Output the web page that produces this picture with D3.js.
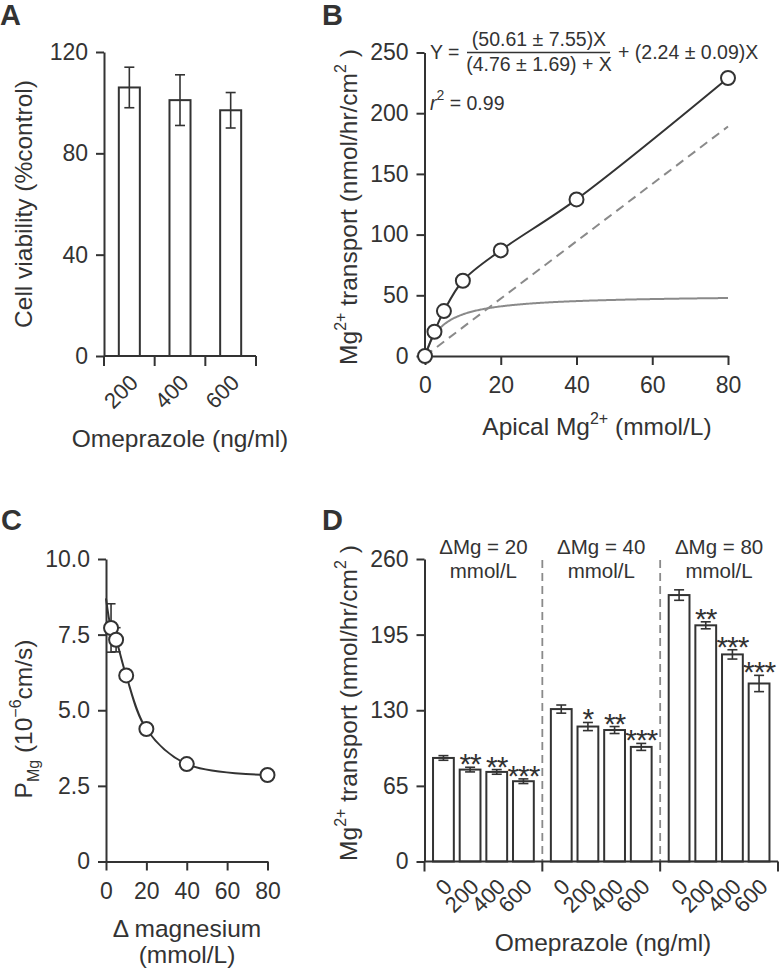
<!DOCTYPE html>
<html><head><meta charset="utf-8">
<script src="https://cdn.jsdelivr.net/npm/d3@7"></script>
<style>
body{margin:0;background:#fff}
svg{display:block}
text{font-family:"Liberation Sans",Arial,sans-serif;fill:#333}
</style>
</head><body><svg id="chart" width="780" height="971"></svg>
<script>
// ---------------- DATA ----------------
// Panel A
const doseLabelsA = ["200", "400", "600"];
const viabilityA = [106, 101, 97];
const viabilityErrA = [8, 10, 7];
const yTicksA = [0, 40, 80, 120];

// Panel B
const apicalMgB = [0, 2.5, 5, 10, 20, 40, 80];
const transportB = [0, 20, 37, 62, 87, 129, 229];
const fitVmaxB = 50.61, fitKmB = 4.76, fitSlopeB = 2.24;
const dashedXB = [0, 80];
const dashedYB = [0, 189];
const xTicksB = [0, 20, 40, 60, 80];
const yTicksB = [0, 50, 100, 150, 200, 250];

// Panel C
const deltaMgC = [2.5, 5, 10, 20, 40, 80];
const pMgC = [7.72, 7.33, 6.15, 4.38, 3.22, 2.86];
const pMgErrC = [0.8, 0.4, 0.1, 0.1, 0.1, 0.1];
const curveXC = [0, 2.5, 5, 10, 20, 40, 80];
const curveYC = [8.7, 7.72, 7.33, 6.15, 4.38, 3.22, 2.86];
const xTicksC = [0, 20, 40, 60, 80];
const yTicksC = [0, 2.5, 5, 7.5, 10];
const yTickLabelsC = ["0", "2.5", "5.0", "7.5", "10.0"];

// Panel D
const groupLabelsD = ["\u0394Mg = 20", "\u0394Mg = 40", "\u0394Mg = 80"];
const dosesD = ["0", "200", "400", "600"];
const transportD = [[89, 79, 77, 69], [131, 116, 113, 98.5], [229, 203, 178, 153]];
const transportErrD = [[2, 2, 2, 2], [3.5, 3.5, 3, 3], [4.5, 3, 4, 7]];
const sigD = [["", "**", "**", "***"], ["", "*", "**", "***"], ["", "**", "***", "***"]];
const yTicksD = [0, 65, 130, 195, 260];

// ---------------- DRAWING ----------------
const INK = "#333";
const GRAY = "#8a8a8a";
const svg = d3.select("#chart");

function styleAxis(g, fs) {
  g.attr("font-family", null).attr("font-size", null);
  g.select(".domain").attr("stroke", INK).attr("stroke-width", 2);
  g.selectAll(".tick line").attr("stroke", INK).attr("stroke-width", 2);
  g.selectAll(".tick text").attr("font-size", fs).attr("fill", INK);
}
function leftAxis(scale, x, ticks, fmt) {
  const ax = d3.axisLeft(scale).tickValues(ticks).tickSize(8).tickSizeOuter(0).tickPadding(8);
  if (fmt) ax.tickFormat(fmt);
  const g = svg.append("g").attr("transform", `translate(${x},0)`).call(ax);
  styleAxis(g, 23);
  return g;
}
function bottomAxis(scale, y, ticks) {
  const ax = d3.axisBottom(scale).tickValues(ticks).tickSize(9).tickSizeOuter(0).tickPadding(12);
  const g = svg.append("g").attr("transform", `translate(0,${y})`).call(ax);
  styleAxis(g, 23);
  return g;
}
function panelLetter(t, x, y) {
  svg.append("text").attr("x", x).attr("y", y).attr("font-size", 29).attr("font-weight", "bold").text(t);
}
function errBar(g, cx, yTop, yBot, cap) {
  g.append("line").attr("x1", cx).attr("x2", cx).attr("y1", yTop).attr("y2", yBot)
    .attr("stroke", INK).attr("stroke-width", 1.6);
  [yTop, yBot].forEach(yy => g.append("line").attr("x1", cx - cap / 2).attr("x2", cx + cap / 2)
    .attr("y1", yy).attr("y2", yy).attr("stroke", INK).attr("stroke-width", 1.6));
}
function mgLabel(x, y) {
  const t = svg.append("text").attr("transform", `translate(${x},${y}) rotate(-90)`)
    .attr("text-anchor", "middle").attr("font-size", 24.5);
  t.append("tspan").text("Mg");
  t.append("tspan").attr("dy", -11).attr("font-size", 16).text("2+");
  t.append("tspan").attr("dy", 11).text(" transport (nmol/hr/cm");
  t.append("tspan").attr("dy", -11).attr("font-size", 16).text("2");
  t.append("tspan").attr("dy", 11).text(" )");
}

// ===== Panel A =====
panelLetter("A", 0, 25);
const yA = d3.scaleLinear().domain([0, 120]).range([356, 52]);
const xA = d3.scaleBand().domain(doseLabelsA).range([104, 256]).paddingInner(0.585).paddingOuter(0.2925);
const gA = svg.append("g");
viabilityA.forEach((v, i) => {
  const d = doseLabelsA[i];
  gA.append("rect").attr("x", xA(d)).attr("y", yA(v)).attr("width", xA.bandwidth()).attr("height", yA(0) - yA(v))
    .attr("fill", "#fff").attr("stroke", INK).attr("stroke-width", 2);
  const cx = xA(d) + xA.bandwidth() / 2;
  errBar(gA, cx, yA(v + viabilityErrA[i]), yA(v - viabilityErrA[i]), 10);
});
leftAxis(yA, 104, yTicksA);
// x axis A
{
  gA.append("line").attr("x1", 104).attr("x2", 256).attr("y1", 356).attr("y2", 356).attr("stroke", INK).attr("stroke-width", 2);
  d3.range(doseLabelsA.length + 1).forEach(i => {
    const x = 104 + i * (152 / doseLabelsA.length);
    gA.append("line").attr("x1", x).attr("x2", x).attr("y1", 356).attr("y2", 366).attr("stroke", INK).attr("stroke-width", 2);
  });
  doseLabelsA.forEach(d => {
    const cx = xA(d) + xA.bandwidth() / 2;
    gA.append("text").attr("transform", `translate(${cx + 10},${384}) rotate(-45)`)
      .attr("text-anchor", "end").attr("font-size", 22).text(d);
  });
}
svg.append("text").attr("transform", "translate(32,204) rotate(-90)").attr("text-anchor", "middle")
  .attr("font-size", 24.5).text("Cell viability (%control)");
svg.append("text").attr("x", 180).attr("y", 447).attr("text-anchor", "middle").attr("font-size", 24.5)
  .text("Omeprazole (ng/ml)");

// ===== Panel B =====
panelLetter("B", 322, 25);
const xB = d3.scaleLinear().domain([0, 80]).range([425, 728]);
const yB = d3.scaleLinear().domain([0, 250]).range([356, 52.5]);
const gB = svg.append("g");
// gray hyperbolic component (from the printed fit parameters)
const hypX = d3.range(0, 80.01, 0.25);
gB.append("path").datum(hypX)
  .attr("d", d3.line().x(x => xB(x)).y(x => yB(fitVmaxB * x / (fitKmB + x))))
  .attr("fill", "none").attr("stroke", GRAY).attr("stroke-width", 2);
// dashed linear component
gB.append("path").datum(dashedXB.map((x, i) => [x, dashedYB[i]]))
  .attr("d", d3.line().x(d => xB(d[0])).y(d => yB(d[1])))
  .attr("fill", "none").attr("stroke", GRAY).attr("stroke-width", 2).attr("stroke-dasharray", "9,6");
// black total curve
const ptsB = apicalMgB.map((x, i) => [x, transportB[i]]);
gB.append("path").datum(ptsB)
  .attr("d", d3.line().x(d => xB(d[0])).y(d => yB(d[1])).curve(d3.curveCatmullRom.alpha(0.5)))
  .attr("fill", "none").attr("stroke", INK).attr("stroke-width", 2);
leftAxis(yB, 424.5, yTicksB);
bottomAxis(xB, 356, xTicksB);
gB.raise();
svg.append("g").selectAll("circle").data(ptsB).join("circle")
  .attr("cx", d => xB(d[0])).attr("cy", d => yB(d[1])).attr("r", 7)
  .attr("fill", "#fff").attr("stroke", INK).attr("stroke-width", 2);
// equation
{
  const fs = 19.5;
  svg.append("text").attr("x", 430).attr("y", 59).attr("font-size", fs).text("Y =");
  svg.append("text").attr("x", 539).attr("y", 46).attr("text-anchor", "middle").attr("font-size", fs).text("(50.61 \u00b1 7.55)X");
  svg.append("line").attr("x1", 467).attr("x2", 610).attr("y1", 52.5).attr("y2", 52.5).attr("stroke", INK).attr("stroke-width", 1.6);
  svg.append("text").attr("x", 539).attr("y", 71).attr("text-anchor", "middle").attr("font-size", fs).text("(4.76 \u00b1 1.69) + X");
  svg.append("text").attr("x", 618).attr("y", 59).attr("font-size", fs).text("+ (2.24 \u00b1 0.09)X");
  const r = svg.append("text").attr("x", 430).attr("y", 110).attr("font-size", fs);
  r.append("tspan").attr("font-style", "italic").text("r");
  r.append("tspan").attr("dy", -10).attr("font-size", 14).text("2");
  r.append("tspan").attr("dy", 10).text(" = 0.99");
}
mgLabel(357, 207);
{
  const t = svg.append("text").attr("x", 597).attr("y", 435).attr("text-anchor", "middle").attr("font-size", 24.5);
  t.append("tspan").text("Apical Mg");
  t.append("tspan").attr("dy", -11).attr("font-size", 16).text("2+");
  t.append("tspan").attr("dy", 11).text(" (mmol/L)");
}

// ===== Panel C =====
panelLetter("C", 1, 530);
const xC = d3.scaleLinear().domain([0, 80]).range([106, 267.5]);
const yC = d3.scaleLinear().domain([0, 10]).range([861.5, 559]);
const gC = svg.append("g");
gC.append("path").datum(curveXC.map((x, i) => [x, curveYC[i]]))
  .attr("d", d3.line().x(d => xC(d[0])).y(d => yC(d[1])).curve(d3.curveCatmullRom.alpha(0.5)))
  .attr("fill", "none").attr("stroke", INK).attr("stroke-width", 2);
deltaMgC.forEach((x, i) => errBar(gC, xC(x), yC(pMgC[i] + pMgErrC[i]), yC(pMgC[i] - pMgErrC[i]), 9));
leftAxis(yC, 106, yTicksC, (d, i) => yTickLabelsC[i]);
bottomAxis(xC, 861.5, xTicksC);
svg.append("g").selectAll("circle").data(deltaMgC).join("circle")
  .attr("cx", d => xC(d)).attr("cy", (d, i) => yC(pMgC[i])).attr("r", 7)
  .attr("fill", "#fff").attr("stroke", INK).attr("stroke-width", 2);
{
  const t = svg.append("text").attr("transform", "translate(32,719) rotate(-90)").attr("text-anchor", "middle").attr("font-size", 24.5);
  t.append("tspan").text("P");
  t.append("tspan").attr("dy", 7).attr("font-size", 16).text("Mg");
  t.append("tspan").attr("dy", -7).text(" (10");
  t.append("tspan").attr("dy", -11).attr("font-size", 16).text("\u22126");
  t.append("tspan").attr("dy", 11).text("cm/s)");
}
svg.append("text").attr("x", 187).attr("y", 937).attr("text-anchor", "middle").attr("font-size", 24.5).text("\u0394 magnesium");
svg.append("text").attr("x", 187).attr("y", 963).attr("text-anchor", "middle").attr("font-size", 24.5).text("(mmol/L)");

// ===== Panel D =====
panelLetter("D", 322, 530);
const yD = d3.scaleLinear().domain([0, 260]).range([861.5, 559]);
const xGroupD = d3.scaleBand().domain(groupLabelsD).range([424.5, 778]).padding(0);
const xBarD = d3.scaleBand().domain(dosesD).range([0, xGroupD.bandwidth()]).paddingInner(0.22).paddingOuter(0.32);
const gD = svg.append("g");
groupLabelsD.slice(1).forEach(gl => {
  const x = xGroupD(gl);
  gD.append("line").attr("x1", x).attr("x2", x).attr("y1", 560).attr("y2", 861.5)
    .attr("stroke", GRAY).attr("stroke-width", 1.8).attr("stroke-dasharray", "8,5");
});
groupLabelsD.forEach((gl, gi) => {
  const gx = xGroupD(gl);
  const cxg = gx + xGroupD.bandwidth() / 2;
  gD.append("text").attr("x", cxg).attr("y", 554).attr("text-anchor", "middle").attr("font-size", 20.5).text(gl);
  gD.append("text").attr("x", cxg).attr("y", 578).attr("text-anchor", "middle").attr("font-size", 20.5).text("mmol/L");
  dosesD.forEach((d, i) => {
    const v = transportD[gi][i], e = transportErrD[gi][i];
    const x = gx + xBarD(d);
    gD.append("rect").attr("x", x).attr("y", yD(v)).attr("width", xBarD.bandwidth()).attr("height", yD(0) - yD(v))
      .attr("fill", "#fff").attr("stroke", INK).attr("stroke-width", 2);
    const cx = x + xBarD.bandwidth() / 2;
    errBar(gD, cx, yD(v + e), yD(v - e), 10);
    if (sigD[gi][i]) {
      gD.append("text").attr("x", cx).attr("y", yD(v + e) + 7).attr("text-anchor", "middle")
        .attr("font-size", 30).attr("letter-spacing", -1).text(sigD[gi][i]);
    }
    gD.append("text").attr("transform", `translate(${cx + 10},${888}) rotate(-45)`)
      .attr("text-anchor", "end").attr("font-size", 22).text(d);
  });
});
leftAxis(yD, 424.5, yTicksD);
gD.append("line").attr("x1", 424.5).attr("x2", 778).attr("y1", 861.5).attr("y2", 861.5).attr("stroke", INK).attr("stroke-width", 2);
d3.range(groupLabelsD.length + 1).forEach(i => {
  const x = i < groupLabelsD.length ? xGroupD(groupLabelsD[i]) : 778;
  gD.append("line").attr("x1", x).attr("x2", x).attr("y1", 861.5).attr("y2", 871.5).attr("stroke", INK).attr("stroke-width", 2);
});
mgLabel(357, 703);
svg.append("text").attr("x", 603).attr("y", 951).attr("text-anchor", "middle").attr("font-size", 24.5).text("Omeprazole (ng/ml)");
</script>
</body></html>
